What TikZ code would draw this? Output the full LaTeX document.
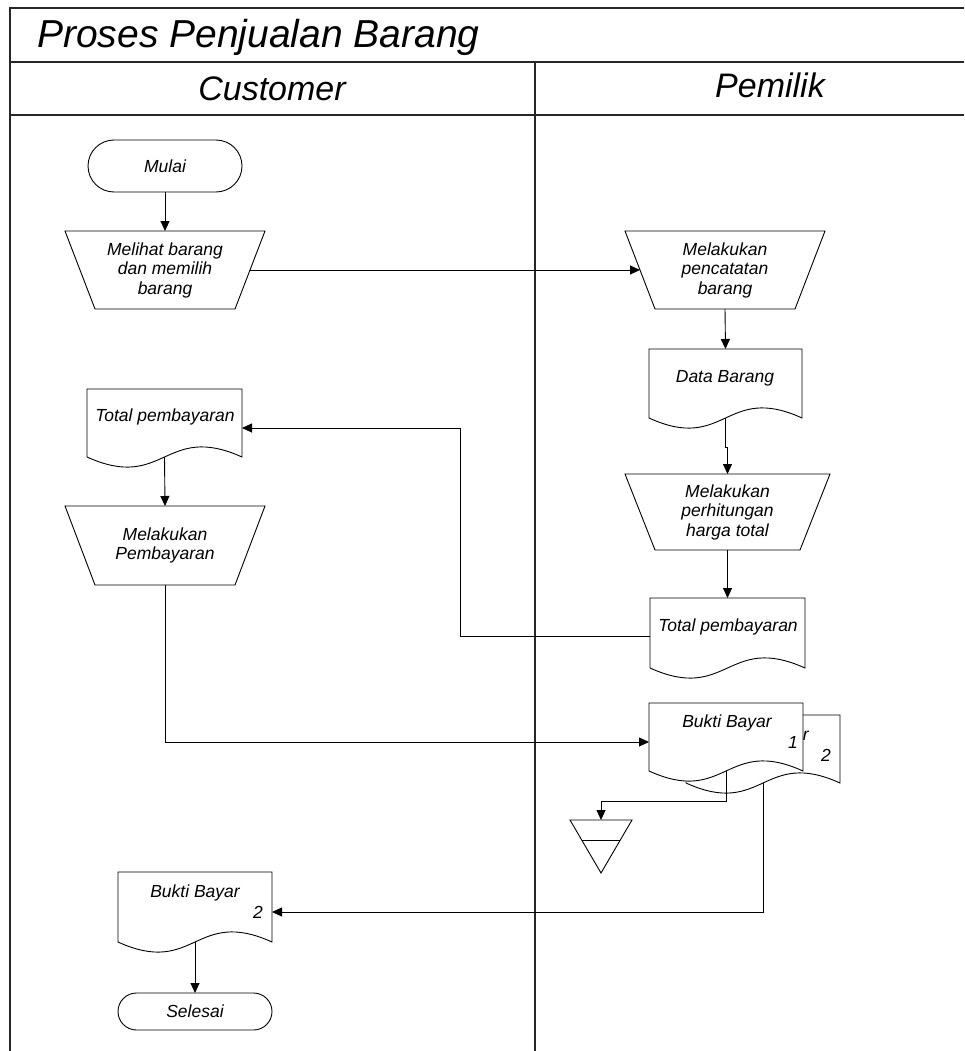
\documentclass[tikz,border=0pt]{standalone}
\usepackage{fontspec}
\setmainfont{Liberation Sans}
\usetikzlibrary{arrows.meta,calc,shapes.misc}
\begin{document}
\begin{tikzpicture}[x=1pt,y=-1pt,
  frame/.style={line width=1.4pt, draw=black!85},
  ln/.style={line width=0.9pt},
  arr/.style={ln,-{Triangle[length=10pt,width=9pt]}},
  txt/.style={font=\fontsize{17.5}{19.5}\selectfont\itshape, inner sep=0pt, outer sep=0pt, align=center},
  term/.style={rounded rectangle, draw, ln, txt},
  manop/.style={txt, minimum width=200pt, minimum height=78pt,
    append after command={\pgfextra{\draw[ln] (\tikzlastnode.north west) -- (\tikzlastnode.north east) -- ([xshift=-30pt]\tikzlastnode.south east) -- ([xshift=30pt]\tikzlastnode.south west) -- cycle;}}},
  docbox/.style={inner sep=0pt, outer sep=0pt, minimum width=154pt, minimum height=69pt,
    append after command={\pgfextra{\draw[ln, fill=white] (\tikzlastnode.north west) -- (\tikzlastnode.south west) .. controls ($(\tikzlastnode.south)+(0,35)$) and ($(\tikzlastnode.south)+(0,-35)$) .. (\tikzlastnode.south east) -- (\tikzlastnode.north east) -- cycle;}}},
]
\useasboundingbox (0,0) rectangle (964,1051);

% frame
\draw[frame] (10,1051) -- (10,8) -- (964,8);
\draw[frame] (10,62) -- (964,62);
\draw[frame] (10,115) -- (964,115);
\draw[frame] (535,62) -- (535,1051);

\node[anchor=base west, font=\fontsize{39}{43}\selectfont\itshape, inner sep=0pt] (title) at (37,48) {Proses Penjualan Barang};
\node[anchor=base, font=\fontsize{34}{38}\selectfont\itshape, inner sep=0pt] (cust) at (272,101) {Customer};
\node[anchor=base, font=\fontsize{34}{38}\selectfont\itshape, inner sep=0pt] (pem) at (770,98) {Pemilik};

% shapes
\node[term, minimum width=154pt, minimum height=52pt] (mulai) at (165,166) {Mulai};
\node[manop] (T1) at (165,270) {Melihat barang\\dan memilih\\barang};
\node[manop] (T2) at (725,270) {Melakukan\\pencatatan\\barang};
\node[docbox, minimum width=153pt] (D1) at (725.5,383.5) {};
\node[txt] (D1t) at (725,378) {Data Barang};
\node[manop, minimum width=205pt, minimum height=76pt] (T3) at (727.5,512) {Melakukan\\perhitungan\\harga total};
\node[docbox, minimum width=155pt, minimum height=70pt] (D2) at (727.5,633) {};
\node[txt] (D2t) at (728,627) {Total pembayaran};
\node[docbox, minimum width=155pt, minimum height=68pt] (D3) at (164.5,423) {};
\node[txt] (D3t) at (165,417) {Total pembayaran};
\node[manop, minimum height=79pt] (T4) at (165,545.5) {Melakukan\\Pembayaran};

\node[docbox, minimum height=68pt] (D4b) at (763,749) {};
\node[txt] (D4bt) at (764,736) {Bukti Bayar};
\node[txt] (D4b2) at (826,755) {2};
\node[docbox, minimum height=68pt] (D4f) at (726,737) {};
\node[txt] (D4ft) at (727,723) {Bukti Bayar};
\node[txt] (D4f1) at (793,742) {1};

\coordinate (ST) at (601,820);
\draw[ln] ($(ST)+(-31,0)$) -- ($(ST)+(31,0)$) -- ($(ST)+(0,53)$) -- cycle;
\draw[ln] ($(ST)+(-19,20)$) -- ($(ST)+(19,20)$);

\node[docbox, minimum height=70pt] (D5) at (195,907) {};
\node[txt] (D5t) at (195,893) {Bukti Bayar};
\node[txt] (D5n) at (258,912) {2};
\node[term, minimum width=154pt, minimum height=37pt] (sel) at (195,1011.5) {Selesai};

% connectors
\draw[arr] (mulai.south) -- (T1.north);
\draw[arr] ($(T1.north east)!0.5!([xshift=-30pt]T1.south east)$) -- ($(T2.north west)!0.5!([xshift=30pt]T2.south west)$);
\draw[arr] (T2.south) -- (D1.north);
\draw[arr] (D1.south) -- ++(0,29) -| (T3.north);
\draw[arr] (T3.south) -- (D2.north);
\draw[arr] ([yshift=-3pt]D2.west) -- (460,636) -- (460,428) -- ([yshift=-5pt]D3.east);
\draw[arr] (D3.south) -- (T4.north);
\draw[arr] (T4.south) |- ([yshift=-5pt]D4f.west);
\draw[arr] (D4f.south) -- ++(0,30) -| (ST);
\draw[arr] (D4b.south) |- ([yshift=-5pt]D5.east);
\draw[arr] (D5.south) -- (sel.north);
\end{tikzpicture}
\end{document}
